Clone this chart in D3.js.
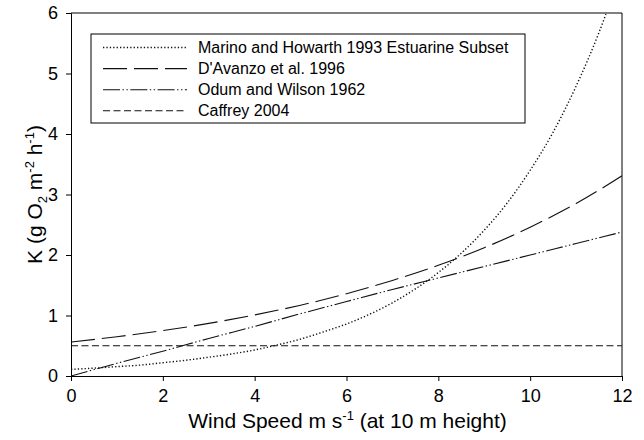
<!DOCTYPE html>
<html>
<head>
<meta charset="utf-8">
<script src="https://cdn.jsdelivr.net/npm/d3@7/dist/d3.min.js"></script>
<style>
  html, body { margin: 0; padding: 0; background: #fff; }
  svg { display: block; font-family: "Liberation Sans", Arial, sans-serif; }
  svg text { white-space: pre; }
</style>
</head>
<body>
<svg id="chart" width="644" height="440"></svg>
<script>
// Gas transfer coefficient K versus wind speed, four published relationships
const windSpeed = [0, 1, 2, 3, 4, 5, 6, 7, 8, 9, 10, 11, 12];
const davanzo   = [0.56, 0.65, 0.75, 0.87, 1.01, 1.17, 1.36, 1.58, 1.83, 2.12, 2.46, 2.85, 3.31];
const odum      = [0.00, 0.21, 0.41, 0.62, 0.82, 1.03, 1.23, 1.43, 1.62, 1.81, 2.00, 2.19, 2.38];
const caffrey   = [0.50, 0.50, 0.50, 0.50, 0.50, 0.50, 0.50, 0.50, 0.50, 0.50, 0.50, 0.50, 0.50];

const marinoWind = [0, 0.5, 1, 1.5, 2, 2.5, 3, 3.5, 4, 4.5, 5, 5.5, 6, 6.5, 7, 7.5, 8, 8.5, 9, 9.5, 10, 10.5, 11, 11.5, 11.65];
const marino     = [0.11, 0.13, 0.155, 0.18, 0.22, 0.26, 0.31, 0.365, 0.43, 0.515, 0.61, 0.73, 0.86, 1.02, 1.21, 1.44, 1.71, 2.03, 2.41, 2.86, 3.40, 4.03, 4.79, 5.68, 5.98];

const xTicks = [0, 2, 4, 6, 8, 10, 12];
const yTicks = [0, 1, 2, 3, 4, 5, 6];

const seriesNames = [
  "Marino and Howarth 1993 Estuarine Subset",
  "D'Avanzo et al. 1996",
  "Odum and Wilson 1962",
  "Caffrey 2004"
];
const seriesDash = ["1.3,2.1", "24,7", "17,2.5,1.4,2.5,1.4,2.5", "7,3.5"];
const seriesWidth = [1.4, 1.1, 1.1, 1.1];

const margin = { top: 13, right: 22, bottom: 64, left: 71 };
const width = 644 - margin.left - margin.right;
const height = 440 - margin.top - margin.bottom;

const svg = d3.select("#chart");
const g = svg.append("g").attr("transform", `translate(${margin.left},${margin.top})`);

const x = d3.scaleLinear().domain([0, 12]).range([0, width]);
const y = d3.scaleLinear().domain([0, 6]).range([height, 0]);

svg.append("defs").append("clipPath").attr("id", "plotClip")
  .append("rect").attr("width", width).attr("height", height);

// Axes
const xAxis = g.append("g").attr("transform", `translate(0,${height})`)
  .call(d3.axisBottom(x).tickValues(xTicks).tickSize(5).tickPadding(8).tickFormat(d3.format("d")));
const yAxis = g.append("g")
  .call(d3.axisLeft(y).tickValues(yTicks).tickSize(5).tickPadding(8).tickFormat(d3.format("d")));
[xAxis, yAxis].forEach(a => {
  a.selectAll("text").attr("font-size", 18).attr("fill", "#000")
    .attr("font-family", "Liberation Sans, Arial, sans-serif");
  a.selectAll("line, path").attr("stroke", "#000");
});

// Frame on top and right
g.append("line").attr("x1", 0).attr("x2", width).attr("y1", 0).attr("y2", 0).attr("stroke", "#000");
g.append("line").attr("x1", width).attr("x2", width).attr("y1", 0).attr("y2", height).attr("stroke", "#000");

// Curves
const line = d3.line().x(d => x(d[0])).y(d => y(d[1])).curve(d3.curveMonotoneX);
const seriesData = [
  d3.zip(marinoWind, marino),
  d3.zip(windSpeed, davanzo),
  d3.zip(windSpeed, odum),
  d3.zip(windSpeed, caffrey)
];
const plot = g.append("g").attr("clip-path", "url(#plotClip)");
seriesData.forEach((data, i) => {
  plot.append("path").datum(data)
    .attr("d", line)
    .attr("fill", "none")
    .attr("stroke", "#111")
    .attr("stroke-width", seriesWidth[i])
    .attr("stroke-dasharray", seriesDash[i]);
});

// Legend
const legend = g.append("g").attr("transform", `translate(${91 - margin.left},${34 - margin.top})`);
legend.append("rect").attr("width", 434).attr("height", 89)
  .attr("fill", "#fff").attr("stroke", "#000").attr("stroke-width", 1);
seriesNames.forEach((name, i) => {
  const cy = 13.5 + i * 21.1;
  legend.append("line").attr("x1", 12).attr("x2", 96).attr("y1", cy).attr("y2", cy)
    .attr("stroke", "#111").attr("stroke-width", seriesWidth[i]).attr("stroke-dasharray", seriesDash[i]);
  legend.append("text").attr("x", 107).attr("y", cy).attr("dy", "0.35em")
    .attr("font-size", 16).attr("fill", "#000").text(name);
});

// Axis titles
const xTitle = svg.append("text")
  .attr("x", margin.left + width / 2 + 1).attr("y", 428)
  .attr("text-anchor", "middle").attr("font-size", 21).attr("fill", "#000");
xTitle.append("tspan").text("Wind Speed m s");
xTitle.append("tspan").attr("dy", -8).attr("font-size", 13).text("-1");
xTitle.append("tspan").attr("dy", 8).text(" (at 10 m height)");

const yTitle = svg.append("text")
  .attr("transform", `translate(42,${margin.top + height / 2}) rotate(-90)`)
  .attr("text-anchor", "middle").attr("font-size", 21).attr("fill", "#000");
yTitle.append("tspan").text("K (g O");
yTitle.append("tspan").attr("dy", 5).attr("font-size", 13).text("2");
yTitle.append("tspan").attr("dy", -5).text(" m");
yTitle.append("tspan").attr("dy", -8).attr("font-size", 13).text("-2");
yTitle.append("tspan").attr("dy", 8).text(" h");
yTitle.append("tspan").attr("dy", -8).attr("font-size", 13).text("-1");
yTitle.append("tspan").attr("dy", 8).text(")");
</script>
</body>
</html>
